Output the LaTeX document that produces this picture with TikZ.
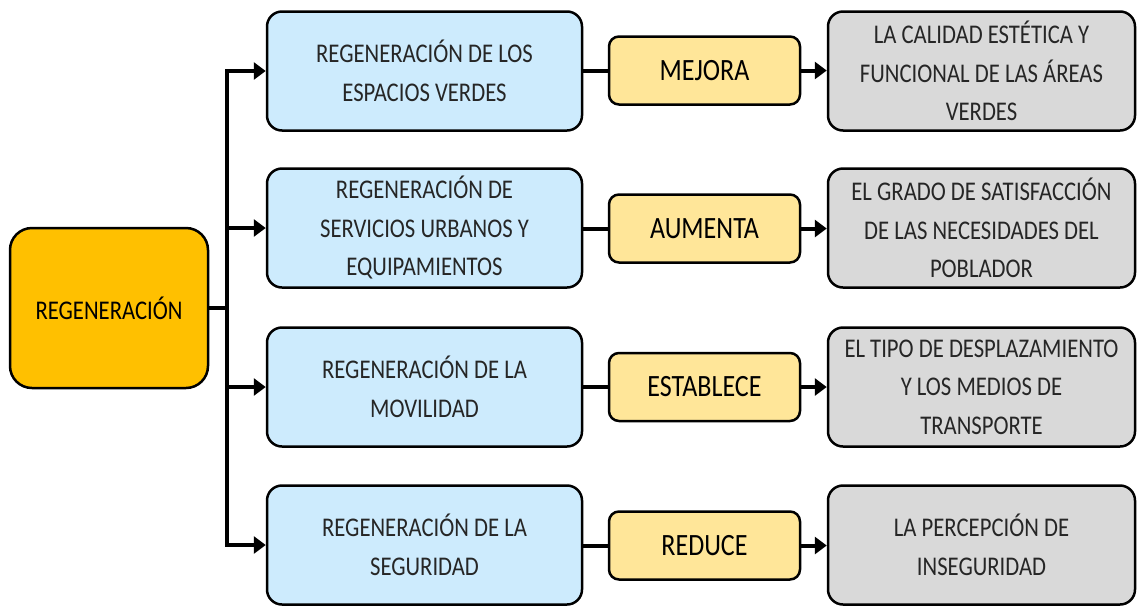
\documentclass[tikz,border=0pt]{standalone}
\usepackage{fontspec}
\setmainfont{Carlito}[FakeStretch=0.84]
\usetikzlibrary{arrows.meta}
\definecolor{rootfill}{HTML}{FFC000}
\definecolor{bluefill}{HTML}{CDEBFD}
\definecolor{yelfill}{HTML}{FFE699}
\definecolor{grayfill}{HTML}{D9D9D9}
\definecolor{txt}{HTML}{262626}
\tikzset{
  box/.style={draw=black, line width=2.5pt, rounded corners=15pt, align=center,
    text=txt, font=\fontsize{27}{38.5}\selectfont, inner sep=0pt},
  rootbox/.style={box, fill=rootfill, minimum width=198pt, minimum height=160pt, rounded corners=22pt, text=black},
  bluebox/.style={box, fill=bluefill, minimum width=315pt, minimum height=119pt},
  yelbox/.style={box, fill=yelfill, minimum width=191pt, minimum height=68pt, rounded corners=10pt,
    text=black, font=\fontsize{31}{36}\selectfont},
  graybox/.style={box, fill=grayfill, minimum width=307pt, minimum height=119pt},
  conn/.style={line width=4pt},
  arr/.style={line width=4pt, -{Triangle[length=12pt,width=17pt]}},
}
\begin{document}
\begin{tikzpicture}[x=1pt,y=-1pt]
\useasboundingbox (0,0) rectangle (1137,606);
\node[rootbox] (root) at (109,308) {REGENERACIÓN};
\node[bluebox] (b1) at (424.5,71) {REGENERACIÓN DE LOS\\ESPACIOS VERDES};
\node[bluebox] (b2) at (424.5,228) {REGENERACIÓN DE\\SERVICIOS URBANOS Y\\EQUIPAMIENTOS};
\node[bluebox] (b3) at (424.5,387) {REGENERACIÓN DE LA\\MOVILIDAD};
\node[bluebox] (b4) at (424.5,545) {REGENERACIÓN DE LA\\SEGURIDAD};
\node[yelbox] (y1) at (704.5,70.5) {MEJORA};
\node[yelbox] (y2) at (704.5,228.5) {AUMENTA};
\node[yelbox] (y3) at (704.5,387) {ESTABLECE};
\node[yelbox] (y4) at (704.5,545.5) {REDUCE};
\node[graybox] (g1) at (981.5,71) {LA CALIDAD ESTÉTICA Y\\FUNCIONAL DE LAS ÁREAS\\VERDES};
\node[graybox] (g2) at (981.5,228) {EL GRADO DE SATISFACCIÓN\\DE LAS NECESIDADES DEL\\POBLADOR};
\node[graybox] (g3) at (981.5,387) {EL TIPO DE DESPLAZAMIENTO\\Y LOS MEDIOS DE\\TRANSPORTE};
\node[graybox] (g4) at (981.5,545) {LA PERCEPCIÓN DE\\INSEGURIDAD};
\coordinate (t0) at (227,308);
\coordinate (t1) at (227,71);
\coordinate (t4) at (227,545);
\draw[conn] (root.east) -- (t0);
\draw[conn, line cap=rect] (t1) -- (t4);
\foreach \i in {1,2,3,4}{
  \draw[arr] (b\i.west -| t0) -- (b\i.west);
  \draw[conn] (b\i.east |- y\i.west) -- (y\i.west);
  \draw[arr] (y\i.east) -- (y\i.east -| g\i.west);
}
\end{tikzpicture}
\end{document}
